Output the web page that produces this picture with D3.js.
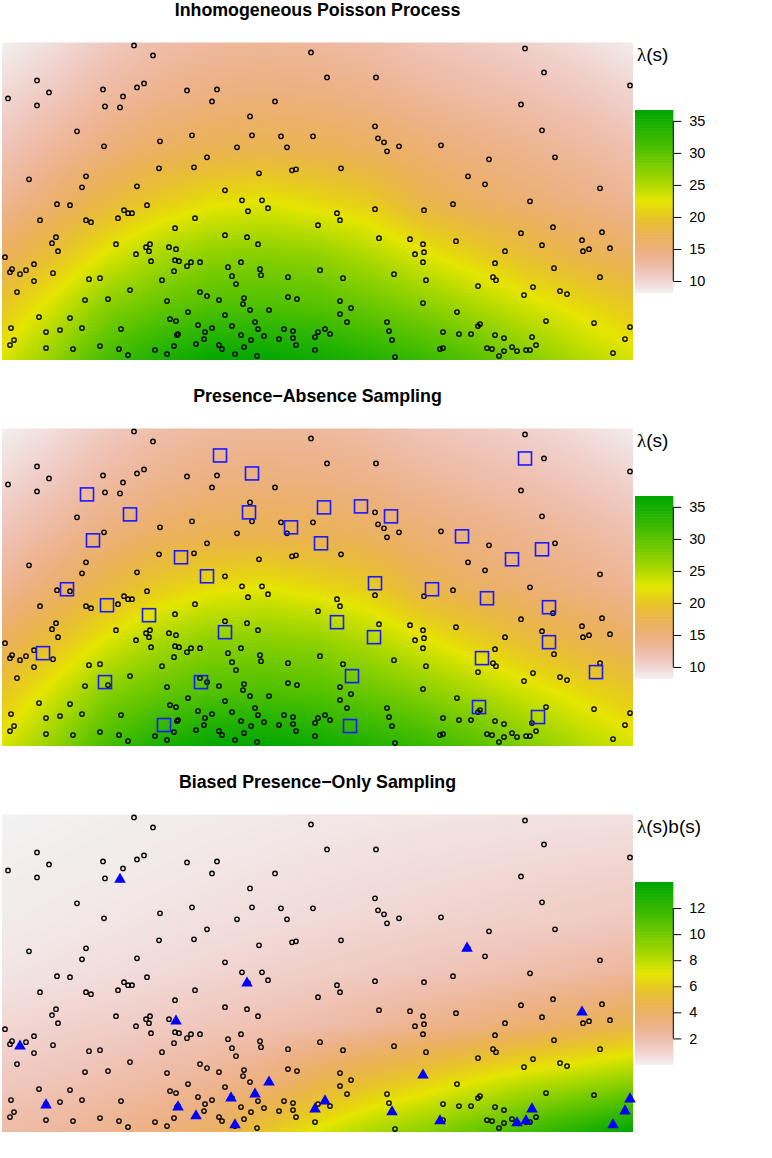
<!DOCTYPE html>
<meta charset="utf-8">
<script src="https://d3js.org/d3.v7.min.js"></script>
<style>
  body { margin: 0; background: #fff; }
</style>
<div id="chart"></div>
<script>

// panel titles and legend labels
const titles = ["Inhomogeneous Poisson Process", "Presence\u2212Absence Sampling", "Biased Presence\u2212Only Sampling"];
const legendTitles = [["\u03bb", "(s)"], ["\u03bb", "(s)"], ["\u03bb", "(s)b(s)"]];

const gridX = [0, 53, 105, 158, 210, 263, 315, 368, 420, 473, 525, 578, 631];
const gridY = [318, 265, 212, 159, 106, 53, 0];

// intensity lambda(s)
const lambdaGrid = [
  [8.3, 9.5, 11.0, 12.3, 13.0, 13.2, 13.0, 12.5, 11.5, 11.0, 10.3, 9.5, 8.5],
  [9.8, 11.2, 12.8, 14.0, 14.8, 15.0, 14.8, 14.2, 13.3, 12.6, 12.0, 11.2, 10.2],
  [11.5, 13.2, 15.0, 16.5, 17.3, 17.5, 17.2, 16.5, 15.5, 14.6, 13.8, 13.0, 12.0],
  [13.5, 15.8, 18.3, 20.5, 22.0, 22.5, 21.5, 20.5, 17.8, 16.4, 15.5, 14.6, 13.6],
  [16.5, 19.5, 22.8, 25.5, 27.0, 27.3, 26.8, 25.0, 22.8, 20.8, 19.0, 17.6, 16.5],
  [20.0, 23.5, 27.5, 29.5, 30.8, 31.0, 30.5, 29.2, 27.5, 25.5, 23.5, 21.8, 20.2],
  [23.0, 27.0, 31.5, 34.5, 36.3, 36.5, 35.5, 34.0, 32.5, 30.5, 27.8, 25.2, 23.2]
];

// lambda(s) times sampling bias b(s)
const biasGrid = [
  [0.0, 0.05, 0.1, 0.15, 0.2, 0.25, 0.3, 0.33, 0.36, 0.4, 0.43, 0.47, 0.5],
  [0.1, 0.15, 0.2, 0.28, 0.35, 0.42, 0.5, 0.57, 0.65, 0.72, 0.8, 0.88, 0.95],
  [0.2, 0.27, 0.35, 0.45, 0.55, 0.65, 0.75, 0.85, 0.95, 1.05, 1.15, 1.28, 1.4],
  [0.4, 0.5, 0.62, 0.75, 0.9, 1.05, 1.2, 1.38, 1.55, 1.75, 1.95, 2.2, 2.5],
  [0.85, 1.0, 1.15, 1.35, 1.55, 1.8, 2.05, 2.4, 2.8, 3.2, 3.7, 4.2, 4.8],
  [1.4, 1.6, 1.9, 2.2, 2.6, 3.2, 4.4, 5.3, 6.1, 6.9, 7.7, 8.3, 9.0],
  [2.1, 2.4, 2.8, 3.3, 4.0, 5.8, 7.2, 8.4, 9.3, 10.4, 11.6, 12.8, 14.0]
];

// colour bar ranges and ticks
const lambdaRange = [8.2, 36.7];
const biasRange = [0, 14];
const lambdaTicks = [10, 15, 20, 25, 30, 35];
const biasTicks = [2, 4, 6, 8, 10, 12];

// point pattern
const points = [
  [132,315],[151,305],[35,280],[47,268],[6,262],[35,255],[101,271],[121,264],[135,273],[142,277],
  [103,254],[118,253],[185,270],[215,271],[210,259],[75,229],[102,214],[158,219],[190,225],[205,203],
  [157,192],[192,193],[27,181],[84,184],[80,173],[135,174],
  [309,308],[325,283],[374,283],[273,259],[248,244],[250,225],[279,224],[311,224],[235,213],[285,213],
  [373,234],[376,222],[382,218],[385,209],[397,214],[290,190],[294,191],[257,187],[339,192],[223,170],
  [240,160],[260,160],
  [523,312],[542,288],[628,275],[519,256],[540,230],[439,215],[487,201],[553,203],[466,184],[483,176],
  [598,172],[528,159],[451,156],
  [55,156],[68,155],[38,140],[84,140],[89,138],[116,142],[122,150],[126,147],[130,147],[145,155],
  [193,142],[173,132],[54,123],[50,117],[56,109],[114,116],[144,113],[148,116],[147,109],[134,106],
  [167,113],[174,111],[149,99],[173,100],[177,99],[189,98],[185,94],[198,98],[3,103],[8,88],
  [10,91],[18,86],[24,90],[32,96],[32,79],[51,87],[15,68],[87,81],[98,82],[160,80],
  [172,89],[128,70],[83,60],[106,61],[165,59],[198,68],[205,64],[37,43],[68,42],[186,48],
  [168,41],[174,39],[9,32],[44,28],[58,30],[80,32],[119,31],[196,35],[210,32],[12,20],
  [8,15],[44,12],[71,11],[98,14],[117,11],[126,5],[153,10],[165,6],[172,14],[175,25],
  [176,26],[194,16],[202,21],[203,28],
  [246,149],[266,152],[223,125],[245,123],[256,116],[335,147],[338,140],[316,135],[373,151],[422,150],
  [377,122],[408,121],[421,116],[413,106],[422,108],[421,98],[239,98],[226,93],[258,91],[259,85],
  [230,84],[234,76],[286,83],[318,90],[341,82],[392,86],[424,80],[217,60],[242,62],[241,56],
  [248,50],[267,50],[286,63],[295,61],[338,59],[338,46],[349,52],[345,38],[421,57],[223,45],
  [230,34],[253,38],[256,31],[282,31],[291,29],[239,25],[249,20],[262,24],[277,21],[291,22],
  [294,15],[316,28],[323,31],[328,26],[313,23],[385,38],[387,29],[390,20],[217,15],[220,11],
  [233,6],[242,13],[255,4],[313,10],[393,3],
  [454,119],[519,127],[551,133],[600,128],[580,120],[581,109],[587,111],[608,112],[540,115],[503,109],
  [493,97],[552,92],[491,83],[494,80],[598,83],[476,74],[531,73],[522,65],[558,69],[565,66],
  [455,48],[544,39],[592,37],[628,33],[623,21],[611,7],[441,28],[457,26],[469,26],[476,34],
  [478,36],[493,25],[502,22],[530,23],[534,15],[438,11],[441,12],[485,12],[490,11],[510,13],
  [515,9],[502,9],[497,4],[524,10],[528,10]
];

// presence-absence survey sites (squares)
const surveySites = [
  [218,291],[250,273],[85,252],[128,232],[247,234],[289,219],[91,206],[179,189],[205,170],[65,157],
  [105,141],[147,131],[223,114],[41,93],[103,64],[199,64],[162,21],
  [523,288],[322,239],[359,240],[389,230],[319,203],[460,210],[540,197],[510,187],[373,163],
  [430,157],[485,148],[547,139],[335,124],[372,109],[547,104],[480,88],[594,74],[350,70],
  [477,39],[536,29],[348,20]
];

// biased presence-only records (triangles)
const presenceOnly = [
  [118,254],[245,150],[174,112],[18,87],[267,51],[229,35],[253,39],[44,28],[176,26],[194,17],
  [233,8],[313,24],[465,185],[580,121],[421,58],[323,32],[390,21],[438,12],[530,24],[515,10],
  [524,12],[628,34],[623,22],[611,8]
];

const W = 772, H = 1158;
const panelTops = [42.5, 428.5, 814.5];
const panelH = 317.5;

const svg = d3.select("#chart").append("svg")
  .attr("width", W).attr("height", H);

const x = d3.scaleLinear().domain([0, 631]).range([2, 633]);

// terrain.colors reversed: p = 0 light grey, p = 1 green
function hsv(h, s, v) {
  const c = v * s, hp = h / 60, xx = c * (1 - Math.abs(hp % 2 - 1)), m = v - c;
  let r = 0, g = 0, b = 0;
  if (hp < 1) { r = c; g = xx; }
  else if (hp < 2) { r = xx; g = c; }
  else { g = c; b = xx; }
  return [Math.round((r + m) * 255), Math.round((g + m) * 255), Math.round((b + m) * 255)];
}
function terrain(p) {
  p = Math.max(0, Math.min(1, p));
  const q = 1 - p;
  if (q <= 0.5) {
    const t = q / 0.5;
    return hsv(120 - 60 * t, 1, 0.65 + 0.25 * t);
  }
  const t = (q - 0.5) / 0.5;
  return hsv(60 - 60 * t, 1 - t, 0.9 + 0.05 * t);
}

function valueAt(grid, px, py) {
  let i = d3.bisectRight(gridX, px) - 1;
  i = Math.max(0, Math.min(gridX.length - 2, i));
  let j = 0;
  while (j < gridY.length - 2 && py < gridY[j + 1]) j++;
  const tx = Math.max(0, Math.min(1, (px - gridX[i]) / (gridX[i + 1] - gridX[i])));
  const ty = Math.max(0, Math.min(1, (gridY[j] - py) / (gridY[j] - gridY[j + 1])));
  const a = grid[j][i], b = grid[j][i + 1], c = grid[j + 1][i], d = grid[j + 1][i + 1];
  return (a * (1 - tx) + b * tx) * (1 - ty) + (c * (1 - tx) + d * tx) * ty;
}

function rasterURL(grid, range) {
  const cw = 631, ch = 318;
  const canvas = document.createElement("canvas");
  canvas.width = cw; canvas.height = ch;
  const ctx = canvas.getContext("2d");
  const img = ctx.createImageData(cw, ch);
  const col = d3.scaleLinear().domain(range).range([0, 1]);
  for (let r = 0; r < ch; r++) {
    const yv = 318 - (r + 0.5) * 318 / ch;
    for (let c = 0; c < cw; c++) {
      const xv = (c + 0.5) * 631 / cw;
      const rgb = terrain(col(valueAt(grid, xv, yv)));
      const k = (r * cw + c) * 4;
      img.data[k] = rgb[0]; img.data[k + 1] = rgb[1]; img.data[k + 2] = rgb[2]; img.data[k + 3] = 255;
    }
  }
  ctx.putImageData(img, 0, 0);
  return canvas.toDataURL();
}

const lambdaImg = rasterURL(lambdaGrid, lambdaRange);
const biasImg = rasterURL(biasGrid, biasRange);

const panels = [
  { img: lambdaImg, range: lambdaRange, ticks: lambdaTicks, extra: null },
  { img: lambdaImg, range: lambdaRange, ticks: lambdaTicks, extra: "square" },
  { img: biasImg, range: biasRange, ticks: biasTicks, extra: "triangle" }
];

const font = "'Liberation Sans', Arial, Helvetica, sans-serif";

panels.forEach(function (p, k) {
  const top = panelTops[k];
  const y = d3.scaleLinear().domain([0, 318]).range([top + panelH, top]);
  const g = svg.append("g");

  g.append("text")
    .attr("x", 317.5).attr("y", top - 26.5)
    .attr("text-anchor", "middle")
    .style("font-family", font).style("font-weight", "bold").style("font-size", "17.8px")
    .text(titles[k]);

  g.append("image")
    .attr("href", p.img)
    .attr("x", x(0)).attr("y", top)
    .attr("width", x(631) - x(0)).attr("height", panelH)
    .attr("preserveAspectRatio", "none");

  g.selectAll("circle.pt")
    .data(points)
    .join("circle")
    .attr("class", "pt")
    .attr("cx", d => x(d[0]))
    .attr("cy", d => y(d[1]))
    .attr("r", 2.2)
    .attr("fill", "none")
    .attr("stroke", "#000")
    .attr("stroke-width", 1.35);

  if (p.extra === "square") {
    g.selectAll("rect.site")
      .data(surveySites)
      .join("rect")
      .attr("class", "site")
      .attr("x", d => x(d[0]) - 6.5)
      .attr("y", d => y(d[1]) - 6.5)
      .attr("width", 13).attr("height", 13)
      .attr("fill", "none")
      .attr("stroke", "#1a1aff")
      .attr("stroke-width", 1.6);
  }
  if (p.extra === "triangle") {
    g.selectAll("path.po")
      .data(presenceOnly)
      .join("path")
      .attr("class", "po")
      .attr("d", d3.symbol(d3.symbolTriangle, 58))
      .attr("transform", d => `translate(${x(d[0])},${y(d[1]) + 1})`)
      .attr("fill", "#0000ff");
  }

  // colour bar legend
  const ly = d3.scaleLinear().domain(p.range).range([top + 250, top + 67.5]);
  const steps = d3.range(0, 120);
  const stepH = (ly.range()[0] - ly.range()[1]) / steps.length;
  g.selectAll("rect.bar")
    .data(steps)
    .join("rect")
    .attr("class", "bar")
    .attr("x", 635)
    .attr("y", d => ly.range()[0] - (d + 1) * stepH)
    .attr("width", 38.3)
    .attr("height", stepH + 0.6)
    .attr("fill", d => { const c = terrain((d + 0.5) / steps.length); return `rgb(${c[0]},${c[1]},${c[2]})`; });

  const ax = g.append("g")
    .attr("transform", "translate(673.3,0)")
    .call(d3.axisRight(ly).tickValues(p.ticks).tickSize(8).tickPadding(8).tickFormat(d3.format("d")));
  ax.select(".domain").remove();
  ax.append("line")
    .attr("y1", ly(p.ticks[0])).attr("y2", ly(p.ticks[p.ticks.length - 1]))
    .attr("stroke", "#000");
  ax.selectAll("text")
    .style("font-family", font).style("font-size", "14.5px").attr("fill", "#000");
  ax.selectAll(".tick line").attr("stroke", "#000");

  const lt = g.append("text")
    .attr("x", 637).attr("y", top + 18.5)
    .style("font-size", "19px");
  lt.append("tspan").style("font-family", "'Liberation Serif', 'DejaVu Serif', serif").text(legendTitles[k][0]);
  lt.append("tspan").style("font-family", font).text(legendTitles[k][1]);
});

</script>
